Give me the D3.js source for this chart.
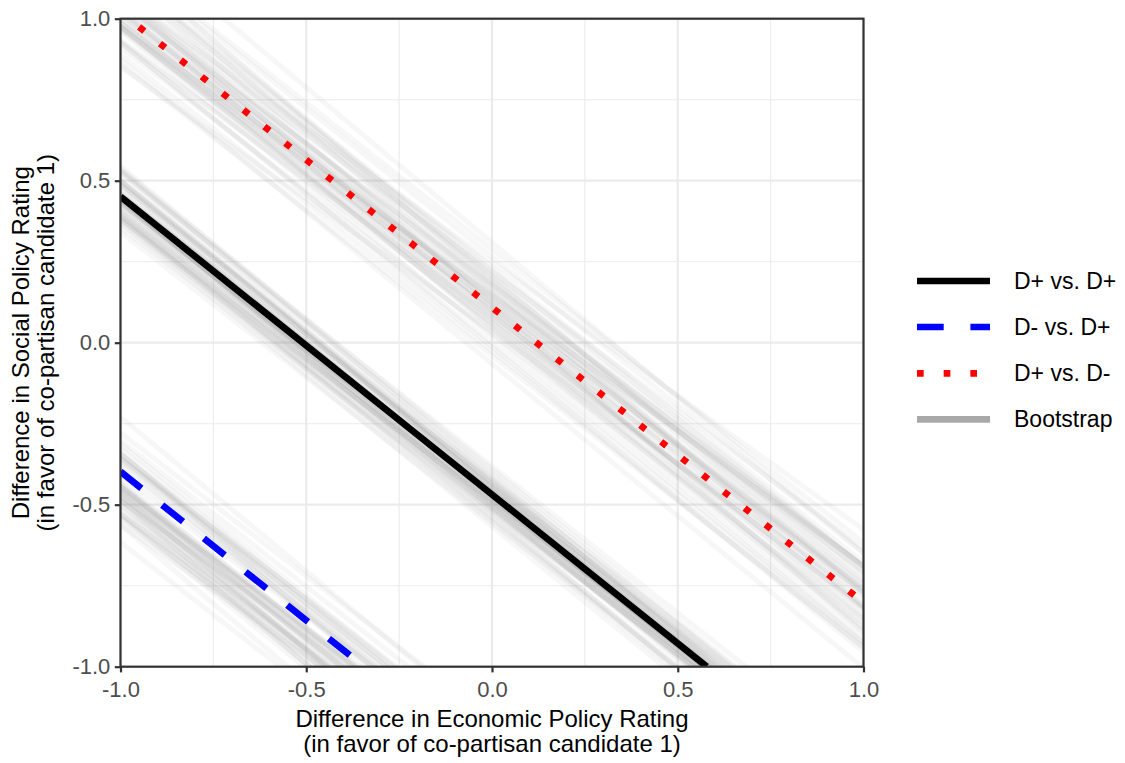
<!DOCTYPE html>
<html>
<head>
<meta charset="utf-8">
<script src="https://cdn.jsdelivr.net/npm/d3@7/dist/d3.min.js"></script>
<style>
  html, body { margin: 0; padding: 0; background: #fff; }
  svg { display: block; font-family: "Liberation Sans", Arial, sans-serif; }
</style>
</head>
<body>
<svg id="chart" width="1125" height="763"></svg>
<script>
// Fitted indifference lines: y = intercept + slope * x, evaluated from xMin to the panel edge
const seriesNames = ["D+ vs. D+", "D- vs. D+", "D+ vs. D-"];
const seriesIntercepts = [-0.4685, -1.316, 0.109];
const seriesSlopes = [-0.9195, -0.918, -0.911];
const seriesXMin = [-1.0, -1.0, -0.95];

// Bootstrap replicates (intercept, slope) per series
const bootBlackIntercepts = [-0.470,-0.513,-0.411,-0.490,-0.445,-0.548,-0.473,-0.433,-0.497,-0.525,-0.461,-0.391,-0.484,-0.449,-0.507,-0.426,-0.567,-0.465,-0.477,-0.439,-0.536,-0.457,-0.501,-0.419,-0.487,-0.474,-0.518,-0.402,-0.480,-0.453,-0.555,-0.436,-0.493,-0.468,-0.381,-0.505,-0.459,-0.521,-0.443,-0.479,-0.423,-0.498,-0.542,-0.463,-0.430,-0.489,-0.447,-0.511];
const bootBlackSlopes = [-0.932,-0.894,-0.956,-0.916,-0.874,-0.939,-0.910,-0.922,-0.889,-0.971,-0.904,-0.928,-0.899,-0.948,-0.918,-0.881,-0.935,-0.913,-0.962,-0.902,-0.924,-0.864,-0.943,-0.908,-0.921,-0.952,-0.892,-0.931,-0.914,-0.980,-0.897,-0.937,-0.885,-0.926,-0.906,-0.946,-0.917,-0.877,-0.940,-0.911,-0.958,-0.901,-0.923,-0.895,-0.934,-0.870,-0.949,-0.909];
const bootBlueIntercepts = [-1.339,-1.427,-1.221,-1.380,-1.290,-1.496,-1.346,-1.265,-1.393,-1.451,-1.322,-1.182,-1.367,-1.298,-1.415,-1.253,-1.535,-1.330,-1.355,-1.279,-1.472,-1.313,-1.402,-1.238,-1.373,-1.348,-1.436,-1.204,-1.361,-1.306,-1.510,-1.273,-1.386,-1.336,-1.161,-1.409,-1.319,-1.442,-1.285,-1.358,-1.247,-1.397,-1.483,-1.326,-1.261,-1.377,-1.293,-1.421];
const bootBlueSlopes = [-0.911,-0.963,-0.864,-0.928,-0.901,-1.010,-0.872,-0.939,-0.852,-0.921,-0.887,-0.953,-0.905,-0.838,-0.944,-0.896,-0.973,-0.878,-0.916,-0.869,-0.933,-0.826,-0.959,-0.892,-0.931,-0.866,-0.970,-0.903,-0.833,-0.941,-0.894,-0.914,-0.859,-0.996,-0.883,-0.924,-0.875,-0.957,-0.907,-0.845,-0.935,-0.898,-0.980,-0.880,-0.917,-0.816,-0.949,-0.890];
const bootRedIntercepts = [0.131,0.044,0.249,0.090,0.180,-0.026,0.125,0.205,0.077,0.019,0.148,0.288,0.103,0.172,0.055,0.217,-0.065,0.140,0.116,0.191,-0.002,0.157,0.068,0.233,0.097,0.122,0.035,0.266,0.109,0.164,-0.040,0.197,0.084,0.134,0.309,0.061,0.152,0.028,0.185,0.112,0.224,0.073,-0.013,0.144,0.209,0.093,0.177,0.049];
const bootRedSlopes = [-0.892,-0.959,-0.826,-0.933,-0.869,-0.916,-0.878,-0.973,-0.896,-0.944,-0.838,-0.905,-0.953,-0.887,-0.921,-0.852,-0.939,-0.872,-1.010,-0.901,-0.928,-0.864,-0.963,-0.911,-0.890,-0.949,-0.816,-0.917,-0.880,-0.980,-0.898,-0.935,-0.845,-0.907,-0.957,-0.875,-0.924,-0.883,-0.996,-0.859,-0.914,-0.894,-0.941,-0.833,-0.903,-0.970,-0.866,-0.931];

const xTicks = [-1.0, -0.5, 0.0, 0.5, 1.0];
const yTicks = [-1.0, -0.5, 0.0, 0.5, 1.0];
const minorTicks = [-0.75, -0.25, 0.25, 0.75];

const seriesColors = ["#000000", "#0000FF", "#FF0000"];
const seriesDash = [null, "26.7,26.7", "6.67,20"];
const lineW = 6.67;

const svg = d3.select("#chart");
const panel = { left: 120.5, right: 863.5, top: 18.7, bottom: 666.7 };

const x = d3.scaleLinear().domain([-1, 1]).range([panel.left, panel.right]);
const y = d3.scaleLinear().domain([-1, 1]).range([panel.bottom, panel.top]);

svg.append("defs").append("clipPath").attr("id", "panel-clip")
  .append("rect")
  .attr("x", panel.left).attr("y", panel.top)
  .attr("width", panel.right - panel.left).attr("height", panel.bottom - panel.top);

// grid
const grid = svg.append("g");
const gridColor = "#EBEBEB";
grid.selectAll("line.minx").data(minorTicks).join("line")
  .attr("x1", d => x(d)).attr("x2", d => x(d))
  .attr("y1", panel.top).attr("y2", panel.bottom)
  .attr("stroke", gridColor).attr("stroke-width", 1.1);
grid.selectAll("line.miny").data(minorTicks).join("line")
  .attr("y1", d => y(d)).attr("y2", d => y(d))
  .attr("x1", panel.left).attr("x2", panel.right)
  .attr("stroke", gridColor).attr("stroke-width", 1.1);
grid.selectAll("line.majx").data(xTicks).join("line")
  .attr("x1", d => x(d)).attr("x2", d => x(d))
  .attr("y1", panel.top).attr("y2", panel.bottom)
  .attr("stroke", gridColor).attr("stroke-width", 2.2);
grid.selectAll("line.majy").data(yTicks).join("line")
  .attr("y1", d => y(d)).attr("y2", d => y(d))
  .attr("x1", panel.left).attr("x2", panel.right)
  .attr("stroke", gridColor).attr("stroke-width", 2.2);

// straight line y = a + b x between two x values
const segment = (a, b, x0, x1) =>
  d3.line().x(d => x(d)).y(d => y(a + b * d))([x0, x1]);

const plot = svg.append("g").attr("clip-path", "url(#panel-clip)");

const bootSets = [
  [bootBlackIntercepts, bootBlackSlopes],
  [bootBlueIntercepts, bootBlueSlopes],
  [bootRedIntercepts, bootRedSlopes]
];
bootSets.forEach(([ints, slopes]) => {
  plot.append("g").selectAll("path").data(ints.map((a, i) => [a, slopes[i]])).join("path")
    .attr("d", d => segment(d[0], d[1], -1.2, 1.2))
    .attr("fill", "none")
    .attr("stroke", "#888888")
    .attr("stroke-opacity", 0.065)
    .attr("stroke-width", 5);
});

// main lines
seriesNames.forEach((name, i) => {
  const a = seriesIntercepts[i], b = seriesSlopes[i];
  const xStart = Math.max(seriesXMin[i], (1 - a) / b);
  const xEnd = Math.min(1, (-1 - a) / b);
  plot.append("path")
    .attr("d", segment(a, b, xStart, xEnd))
    .attr("fill", "none")
    .attr("stroke", seriesColors[i])
    .attr("stroke-width", lineW)
    .attr("stroke-dasharray", seriesDash[i])
    .attr("stroke-linecap", "butt");
});

// panel border
svg.append("rect")
  .attr("x", panel.left).attr("y", panel.top)
  .attr("width", panel.right - panel.left).attr("height", panel.bottom - panel.top)
  .attr("fill", "none").attr("stroke", "#333333").attr("stroke-width", 2.2);

// axes
const fmt = d => d.toFixed(1);
const xAxis = svg.append("g").attr("transform", `translate(0,${panel.bottom})`)
  .call(d3.axisBottom(x).tickValues(xTicks).tickFormat(fmt).tickSize(5.7).tickPadding(9));
const yAxis = svg.append("g").attr("transform", `translate(${panel.left},0)`)
  .call(d3.axisLeft(y).tickValues(yTicks).tickFormat(fmt).tickSize(5.7).tickPadding(4.5));
[xAxis, yAxis].forEach(g => {
  g.attr("font-size", null).attr("font-family", null);
  g.select(".domain").remove();
  g.selectAll(".tick line").attr("stroke", "#333333").attr("stroke-width", 2.2);
  g.selectAll(".tick text").attr("fill", "#4D4D4D")
    .style("font-size", "22px")
    .style("font-family", "'Liberation Sans', Arial, sans-serif");
});

// axis titles
const xTitle = svg.append("text").attr("text-anchor", "middle")
  .style("font-size", "24px").attr("fill", "#000");
xTitle.append("tspan").attr("x", x(0)).attr("y", 727).text("Difference in Economic Policy Rating");
xTitle.append("tspan").attr("x", x(0)).attr("y", 752).text("(in favor of co-partisan candidate 1)");

const yTitle = svg.append("text").attr("text-anchor", "middle")
  .style("font-size", "24px").attr("fill", "#000")
  .attr("transform", `translate(0,${y(0)}) rotate(-90)`);
yTitle.append("tspan").attr("x", 0).attr("y", 29).text("Difference in Social Policy Rating");
yTitle.append("tspan").attr("x", 0).attr("y", 54).text("(in favor of co-partisan candidate 1)");

// legend
const legendNames = seriesNames.concat(["Bootstrap"]);
const legendColors = seriesColors.concat(["#A8A8A8"]);
const legendDash = seriesDash.concat([null]);
const legendY = [281, 327, 373.3, 419.3];
const legend = svg.append("g");
legendNames.forEach((name, i) => {
  legend.append("line")
    .attr("x1", 917).attr("x2", 990)
    .attr("y1", legendY[i]).attr("y2", legendY[i])
    .attr("stroke", legendColors[i])
    .attr("stroke-width", lineW)
    .attr("stroke-dasharray", legendDash[i]);
  legend.append("text")
    .attr("x", 1014).attr("y", legendY[i]).attr("dy", "0.35em")
    .style("font-size", "23px").attr("fill", "#000")
    .text(name);
});
</script>
</body>
</html>
